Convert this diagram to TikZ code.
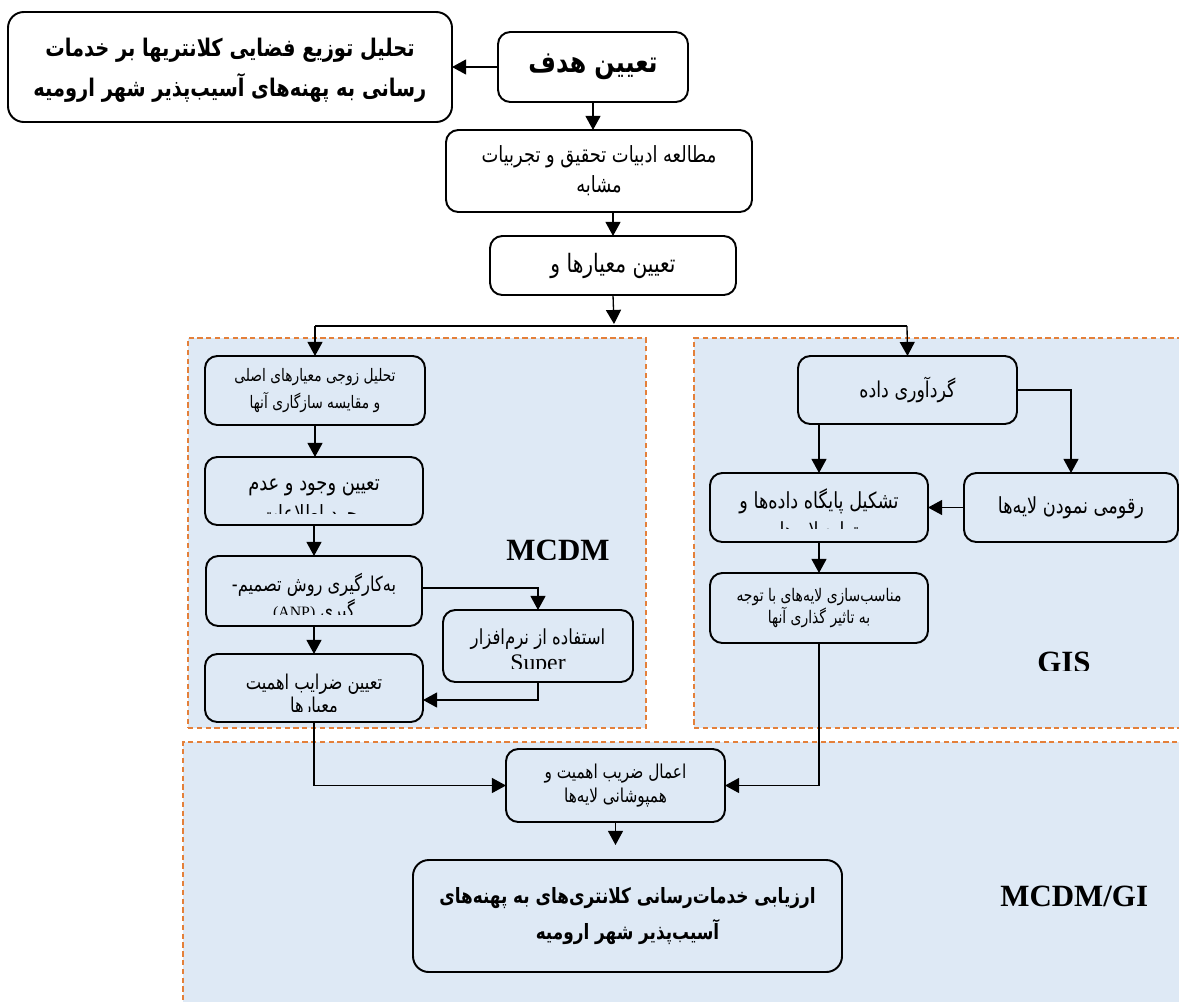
\documentclass[tikz,border=0pt]{standalone}
\usepackage{fontspec}
\setmainfont{Liberation Serif}
\newfontfamily\arabicfont[Script=Arabic,FakeStretch=0.8]{DejaVu Sans}
\TeXXeTstate=1
\usetikzlibrary{arrows.meta}
\definecolor{panelfill}{RGB}{222,233,245}
\definecolor{paneldash}{RGB}{228,128,58}
\newcommand\fa[1]{{\arabicfont\beginR #1\endR}}
\newcommand\zw{^^^^200c}
\newcommand\fs[2]{\fontsize{#1}{#2}\selectfont}
\newcommand\bx[7]{\node[#6, minimum width={(#4-#2)*0.02cm}, minimum height={(#5-#3)*0.02cm}] (#1) at ({(#2+#4)/2},{(#3+#5)/2}) {#7};}
\begin{document}
\begin{tikzpicture}[x=0.02cm,y=-0.02cm,
  basebox/.style={draw=black, line width=1.1pt, rounded corners=7pt, inner sep=0pt, outer sep=0pt, align=center},
  whitebox/.style={basebox, fill=white},
  bluebox/.style={basebox, fill=panelfill},
  panel/.style={fill=panelfill, draw=paneldash, dash pattern=on 3pt off 2pt, line width=0.7pt, inner sep=0pt, outer sep=0pt},
  arr/.style={-{Triangle[length=8pt,width=8.5pt]}, line width=0.75pt},
  txt/.style={inner sep=0pt, align=center},
  flat/.style={font=\fs{17.6}{20}\bfseries, inner sep=0pt}]
\clip (0,0) rectangle (1179,1001);
\fill[white] (0,0) rectangle (1179,1001);

% panels
\bx{pm}{188}{338}{646}{728}{panel}{}
\bx{pg}{694}{338}{1200}{728}{panel}{}
\bx{pb}{183}{742}{1200}{1020}{panel}{}

% top boxes
\bx{tl}{8}{12}{452}{122}{whitebox, rounded corners=9pt}{}
\node[txt, font=\fs{13.8}{22.5}\bfseries] (tlt) at (230,70) {\fa{تحلیل توزیع فضایی کلانتریها بر خدمات}\\\fa{رسانی به پهنه\zw های آسیب\zw پذیر شهر ارومیه}};
\bx{goal}{498}{32}{688}{102}{whitebox, font=\fs{16.9}{20}\bfseries}{\fa{تعیین هدف}}
\bx{study}{446}{130}{752}{212}{whitebox, font=\fs{12.7}{17}}{\fa{مطالعه ادبیات تحقیق و تجربیات}\\\fa{مشابه}}
\bx{crit}{490}{236}{736}{295}{whitebox, font=\fs{14.4}{17}}{\fa{تعیین معیارها و}}

% MCDM boxes
\bx{b1}{205}{356}{425}{425}{bluebox, font=\fs{9.8}{15}}{\fa{تحلیل زوجی معیارهای اصلی}\\\fa{و مقایسه سازگاری آنها}}
\bx{b2}{205}{457}{423}{525}{bluebox}{}
\bx{b3}{206}{556}{422}{626}{bluebox}{}
\bx{sup}{443}{610}{633}{682}{bluebox}{}
\bx{b4}{205}{654}{423}{722}{bluebox}{}

\begin{scope}
\clip (205,457) rectangle (423,513);
\node[txt, font=\fs{12.7}{17.5}] (b2t) at (314,503) {\fa{تعیین وجود و عدم}\\\fa{وجود اطلاعات}};
\end{scope}
\begin{scope}
\clip (206,556) rectangle (422,614);
\node[txt, font=\fs{11.6}{14.5}] (b3t) at (314,598) {\fa{به\zw کارگیری روش تصمیم-}\\\fa{گیری \beginL{\rmfamily\fs{9}{14}(ANP)}\endL}};
\end{scope}
\begin{scope}
\clip (443,610) rectangle (633,668);
\node[txt, font=\fs{11.8}{15}] (supt) at (538,652) {\fa{استفاده از نرم\zw افزار}\\{\rmfamily\fs{13.5}{15}Super}};
\end{scope}
\begin{scope}
\clip (205,654) rectangle (423,711);
\node[txt, font=\fs{11.6}{13}] (b4t) at (314,696) {\fa{تعیین ضرایب اهمیت}\\\fa{معیارها}};
\end{scope}
\begin{scope}
\clip (480,530) rectangle (640,559);
\node[flat, anchor=north] (lmcdm) at (558,540) {MCDM};
\end{scope}

% GIS boxes
\bx{g1}{798}{356}{1017}{424}{bluebox, font=\fs{12.4}{17}}{\fa{گردآوری داده}}
\bx{g2}{710}{473}{928}{542}{bluebox}{}
\bx{g3}{964}{473}{1178}{542}{bluebox, font=\fs{12.6}{17}}{\fa{رقومی نمودن لایه\zw ها}}
\bx{g4}{710}{573}{928}{643}{bluebox, font=\fs{9.9}{13}}{\fa{مناسب\zw سازی لایه\zw های با توجه}\\\fa{به تاثیر گذاری آنها}}
\begin{scope}
\clip (710,473) rectangle (928,528);
\node[txt, font=\fs{12.6}{17}] (g2t) at (819,516) {\fa{تشکیل پایگاه داده\zw ها و}\\\fa{تولید لایه\zw ها}};
\end{scope}
\begin{scope}
\clip (1000,640) rectangle (1130,670);
\node[flat, anchor=north] (lgis) at (1064,652) {GIS};
\end{scope}

% bottom boxes
\bx{apply}{506}{749}{725}{822}{bluebox, font=\fs{10.9}{14}}{\fa{اعمال ضریب اهمیت و}\\\fa{همپوشانی لایه\zw ها}}
\bx{final}{413}{860}{842}{972}{bluebox, rounded corners=9pt, font=\fs{12}{20}\bfseries}{\fa{ارزیابی خدمات\zw رسانی کلانتری\zw های به پهنه\zw های}\\\fa{آسیب\zw پذیر شهر ارومیه}}
\begin{scope}
\clip (990,870) rectangle (1146,920);
\node[flat, anchor=north west] (lmg) at (1000,886) {MCDM/GIS};
\end{scope}

% connectors
\draw[arr] (goal.west) -- (tl.east);
\draw[arr] (goal.south) -- (goal.south |- study.north);
\draw[arr] (crit.north |- study.south) -- (crit.north);
\coordinate (br) at (614,324);
\coordinate (brl) at (315,326);
\coordinate (brr) at (907,326);
\draw[arr] (crit.south) -- (br);
\draw[line width=1.1pt] (brl) -- (brr);
\draw[arr] (brl) -- (b1.north);
\draw[arr] (brr) -- (g1.north);
\draw[arr] (b1.south) -- (b1.south |- b2.north);
\draw[arr] (b2.south) -- (b2.south |- b3.north);
\draw[arr] (b3.south) -- (b3.south |- b4.north);
\draw[arr] (b3.east |- 0,588) -| (sup.north);
\draw[arr] (sup.south) |- (b4.east |- 0,700);
\draw[arr] (g2.north |- g1.south) -- (g2.north);
\draw[arr] (g1.east) -| (g3.north);
\draw[arr] (g3.west) -- (g2.east);
\draw[arr] (g2.south) -- (g4.north);
\draw[arr] (g4.south) |- (apply.east);
\draw[arr] (b4.south) |- (apply.west);
\coordinate (fin) at (apply.south |- 0,845);
\draw[arr] (apply.south) -- (fin);
\end{tikzpicture}
\end{document}
